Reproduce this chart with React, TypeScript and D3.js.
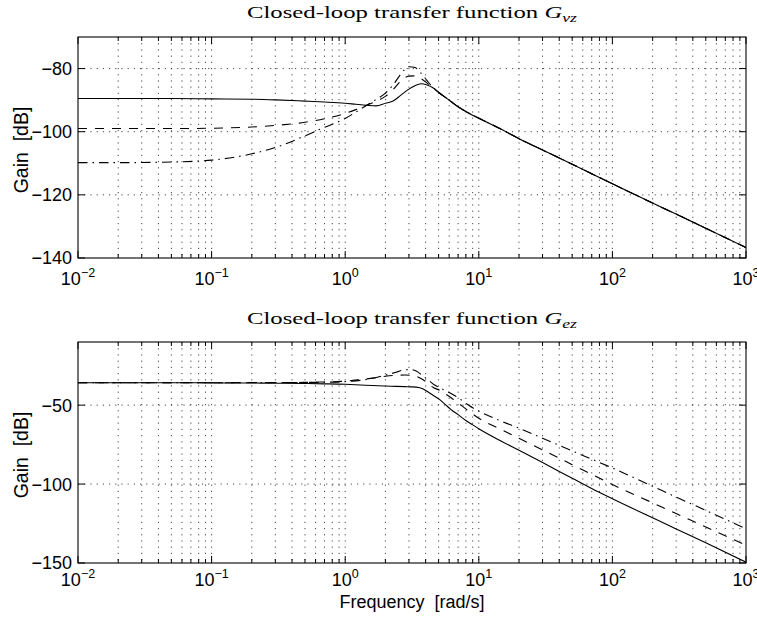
import React from 'react';
import * as d3 from 'd3';

const W = 757;
const H = 619;

// ---------- data: G_vz (top) ----------
const freqVz = [0.01, 0.02, 0.05, 0.1, 0.2, 0.3, 0.5, 0.7, 1, 1.2, 1.45, 1.7, 2, 2.3, 2.6, 3, 3.3, 3.7, 4.1, 4.5, 5.1, 6, 7, 8.5, 10, 15, 20, 30, 50, 70, 100, 200, 300, 500, 1000];
const gvzSolid = [-89.5, -89.5, -89.5, -89.6, -89.7, -89.9, -90.3, -90.6, -91.0, -91.3, -91.6, -91.8, -91.0, -90.2, -88.5, -86.5, -85.5, -84.8, -85.2, -86.0, -87.8, -90.0, -92.1, -94.2, -95.7, -99.4, -102.2, -105.8, -110.3, -113.3, -116.5, -122.6, -126.1, -130.6, -136.7];
const gvzDashed = [-99.0, -99.0, -99.0, -98.9, -98.5, -98.0, -97.0, -95.9, -94.2, -93.0, -91.6, -90.4, -88.8, -86.5, -84.0, -82.4, -82.3, -83.2, -84.6, -86.0, -87.8, -90.0, -92.1, -94.2, -95.7, -99.4, -102.2, -105.8, -110.3, -113.3, -116.5, -122.6, -126.1, -130.6, -136.7];
const gvzDashDot = [-109.8, -109.8, -109.6, -109.0, -107.0, -105.0, -101.3, -98.6, -95.8, -93.8, -91.6, -89.8, -87.8, -85.0, -81.8, -79.4, -79.6, -81.5, -83.8, -85.8, -87.8, -90.0, -92.1, -94.2, -95.7, -99.4, -102.2, -105.8, -110.3, -113.3, -116.5, -122.6, -126.1, -130.6, -136.7];

// ---------- data: G_ez (bottom) ----------
const freqEz = [0.01, 0.02, 0.05, 0.1, 0.2, 0.3, 0.5, 0.7, 1, 1.3, 1.6, 2, 2.4, 2.8, 3.1, 3.4, 3.8, 4.2, 4.6, 5.1, 5.6, 6.2, 7, 8, 9, 10, 15, 20, 30, 50, 70, 100, 200, 300, 500, 1000];
const gezSolid = [-35.8, -35.8, -35.8, -35.9, -36.0, -36.1, -36.3, -36.5, -36.8, -37.2, -37.6, -37.9, -38.1, -38.3, -38.4, -38.6, -39.6, -41.8, -44.0, -46.5, -49.5, -52.8, -56.0, -59.7, -62.5, -65.0, -73.2, -78.6, -86.4, -96.3, -102.8, -109.3, -121.4, -128.4, -137.2, -149.5];
const gezDashed = [-35.8, -35.8, -35.8, -35.8, -35.7, -35.7, -35.6, -35.3, -34.8, -33.8, -32.9, -31.7, -31.1, -30.9, -31.1, -31.8, -33.8, -36.6, -39.0, -40.6, -42.8, -45.3, -48.6, -52.4, -55.6, -58.3, -65.8, -71.0, -78.3, -87.7, -93.8, -100.3, -111.9, -118.7, -127.2, -138.8];
const gezDashDot = [-35.8, -35.8, -35.8, -35.8, -35.8, -35.7, -35.6, -35.5, -35.1, -34.3, -33.0, -31.0, -29.2, -27.6, -27.5, -28.4, -31.4, -34.2, -36.9, -39.0, -40.7, -42.6, -45.3, -48.7, -51.7, -53.8, -60.4, -64.6, -71.0, -79.0, -84.2, -89.8, -101.4, -108.2, -116.7, -128.3];

// ---------- ticks / labels ----------
const xDecades = [-2, -1, 0, 1, 2, 3];
const yTicksVz = [-140, -120, -100, -80];
const yTicksEz = [-150, -100, -50];
const yDomainVz = [-140, -70];
const yDomainEz = [-150, -10];
const titleText = 'Closed-loop transfer function ';
const titleSubVz = 'vz';
const titleSubEz = 'ez';
const yLabel = 'Gain  [dB]';
const xLabel = 'Frequency  [rad/s]';

const L = 78;
const R = 746;
const SANS = '"Liberation Sans", Arial, Helvetica, sans-serif';
const SERIF = '"Liberation Serif", "Times New Roman", serif';

const styles = [
  { dash: undefined as string | undefined },
  { dash: '9,8' },
  { dash: '9.5,5,1.5,5' },
];

function minus(n: number) {
  return n < 0 ? '\u2212' + Math.abs(n) : String(n);
}

type PanelProps = {
  id: string;
  top: number;
  bottom: number;
  yDomain: number[];
  yTicks: number[];
  freq: number[];
  series: number[][];
  sub: string;
  titleY: number;
  ylabelY: number;
  xLabOffset: number;
};

function Panel({ id, top, bottom, yDomain, yTicks, freq, series, sub, titleY, ylabelY, xLabOffset }: PanelProps) {
  const x = d3.scaleLog().domain([1e-2, 1e3]).range([L, R]);
  const y = d3.scaleLinear().domain(yDomain).range([bottom, top]);
  const minor: number[] = [];
  for (let d = -2; d < 3; d++) for (let k = 2; k <= 9; k++) minor.push(k * Math.pow(10, d));
  const majors = xDecades.map((d) => Math.pow(10, d));
  const line = d3
    .line<[number, number]>()
    .x((p) => x(p[0]))
    .y((p) => y(p[1]))
    .curve(d3.curveMonotoneX);
  const gridStyle = { stroke: '#333', strokeWidth: 0.9, strokeDasharray: '1.2,5' };
  return (
    <g>
      <defs>
        <clipPath id={id}>
          <rect x={L} y={top} width={R - L} height={bottom - top} />
        </clipPath>
      </defs>
      {/* grid */}
      {minor.concat(majors.slice(1, -1)).map((f, i) => (
        <line key={'gx' + i} x1={x(f)} x2={x(f)} y1={top} y2={bottom} {...gridStyle} />
      ))}
      {yTicks
        .filter((t) => t > yDomain[0] && t < yDomain[1])
        .map((t) => (
          <line key={'gy' + t} x1={L} x2={R} y1={y(t)} y2={y(t)} {...gridStyle} />
        ))}
      {/* curves */}
      <g clipPath={`url(#${id})`}>
        {series.map((vals, si) => (
          <path
            key={si}
            d={line(freq.map((f, i) => [f, vals[i]] as [number, number])) || ''}
            fill="none"
            stroke="#000"
            strokeWidth={1.1}
            strokeDasharray={styles[si].dash}
          />
        ))}
      </g>
      {/* box */}
      <rect x={L} y={top} width={R - L} height={bottom - top} fill="none" stroke="#000" strokeWidth={1.1} />
      {/* ticks */}
      {majors.map((f, i) => (
        <g key={'mt' + i}>
          <line x1={x(f)} x2={x(f)} y1={bottom} y2={bottom - 7} stroke="#000" />
          <line x1={x(f)} x2={x(f)} y1={top} y2={top + 7} stroke="#000" />
        </g>
      ))}
      {minor.map((f, i) => (
        <g key={'nt' + i}>
          <line x1={x(f)} x2={x(f)} y1={bottom} y2={bottom - 4} stroke="#000" />
          <line x1={x(f)} x2={x(f)} y1={top} y2={top + 4} stroke="#000" />
        </g>
      ))}
      {yTicks.map((t) => (
        <g key={'yt' + t}>
          <line x1={L} x2={L + 7} y1={y(t)} y2={y(t)} stroke="#000" />
          <line x1={R} x2={R - 7} y1={y(t)} y2={y(t)} stroke="#000" />
          <text x={72} y={y(t)} dy="0.36em" textAnchor="end" fontFamily={SANS} fontSize={18} fill="#000">
            {minus(t)}
          </text>
        </g>
      ))}
      {/* x tick labels */}
      {xDecades.map((d) => (
        <text key={'xl' + d} x={x(Math.pow(10, d))} y={bottom + xLabOffset} textAnchor="middle" fontFamily={SANS} fontSize={18} fill="#000">
          10
          <tspan dy={-8} fontSize={12.5}>
            {minus(d)}
          </tspan>
        </text>
      ))}
      {/* y label */}
      <text
        transform={`translate(28,${ylabelY}) rotate(-90)`}
        textAnchor="middle"
        fontFamily={SANS}
        fontSize={19.5}
        fill="#000"
        xmlSpace="preserve"
        style={{ whiteSpace: 'pre' }}
      >
        {yLabel}
      </text>
      {/* title */}
      <text
        x={(L + R) / 2}
        y={titleY}
        textAnchor="middle"
        fontFamily={SERIF}
        fontSize={17.5}
        fill="#000"
        textLength={330}
        lengthAdjust="spacingAndGlyphs"
        xmlSpace="preserve"
        style={{ whiteSpace: 'pre' }}
      >
        {titleText}
        <tspan fontStyle="italic">G</tspan>
        <tspan fontStyle="italic" fontSize={12.5} dy={4}>
          {sub}
        </tspan>
      </text>
    </g>
  );
}

export default function App() {
  return (
    <svg
      width={W}
      height={H}
      viewBox={`0 0 ${W} ${H}`}
      style={{ position: 'absolute', left: 0, top: 0, background: '#fff' }}
    >
      <rect width={W} height={H} fill="#fff" />
      <Panel
        id="clipVz"
        top={37}
        bottom={258}
        yDomain={yDomainVz}
        yTicks={yTicksVz}
        freq={freqVz}
        series={[gvzSolid, gvzDashed, gvzDashDot]}
        sub={titleSubVz}
        titleY={18}
        ylabelY={150}
        xLabOffset={27}
      />
      <Panel
        id="clipEz"
        top={342}
        bottom={563}
        yDomain={yDomainEz}
        yTicks={yTicksEz}
        freq={freqEz}
        series={[gezSolid, gezDashed, gezDashDot]}
        sub={titleSubEz}
        titleY={324}
        ylabelY={455}
        xLabOffset={23}
      />
      <text
        x={(L + R) / 2}
        y={608}
        textAnchor="middle"
        fontFamily={SANS}
        fontSize={18}
        fill="#000"
        xmlSpace="preserve"
        style={{ whiteSpace: 'pre' }}
      >
        {xLabel}
      </text>
    </svg>
  );
}
